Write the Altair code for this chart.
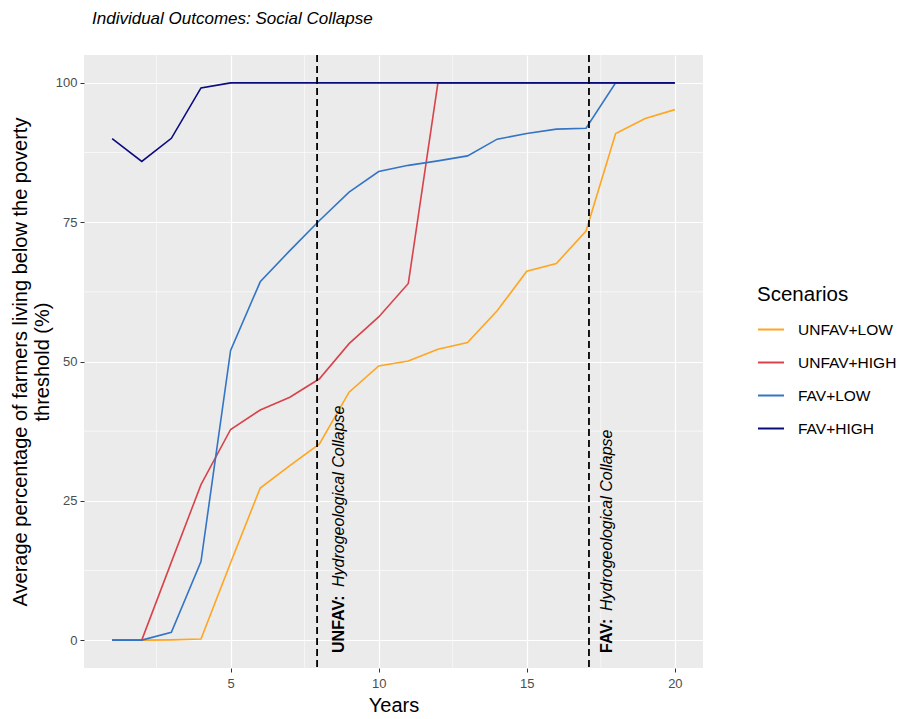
import altair as alt
import pandas as pd

years = list(range(1, 21))
unfav_low = [0, 0, 0.05, 0.2, 13.9, 27.3, 31.3, 35.2, 44.5, 49.2, 50.1, 52.2, 53.4, 59.1, 66.2, 67.6, 73.4, 90.9, 93.6, 95.2]
unfav_high = [0, 0, 14, 27.9, 37.8, 41.3, 43.6, 46.9, 53.2, 58.0, 64.0, 100, 100, 100, 100, 100, 100, 100, 100, 100]
fav_low = [0, 0, 1.4, 14.1, 52.0, 64.3, 69.9, 75.3, 80.4, 84.1, 85.2, 86.0, 86.9, 89.9, 90.9, 91.7, 91.85, 100, 100, 100]
fav_high = [90.0, 85.9, 90.05, 99.1, 100, 100, 100, 100, 100, 100, 100, 100, 100, 100, 100, 100, 100, 100, 100, 100]

scenarios = ["UNFAV+LOW", "UNFAV+HIGH", "FAV+LOW", "FAV+HIGH"]
colors = ["#FFA51F", "#D8434B", "#3474C4", "#0A0A80"]

collapse_years = [7.92, 17.1]
collapse_bold = ["UNFAV:", "FAV:"]
collapse_italic = ["Hydrogeological Collapse", "Hydrogeological Collapse"]
label_x = [8.66, 17.72]
label_y = [-2.3, -2.3]

x_ticks = [5, 10, 15, 20]
y_ticks = [0, 25, 50, 75, 100]
x_minor = [2.5, 7.5, 12.5, 17.5]
y_minor = [12.5, 37.5, 62.5, 87.5]

FONT = "Liberation Sans"

rows = []
for s, vals in zip(scenarios, [unfav_low, unfav_high, fav_low, fav_high]):
    for yr, v in zip(years, vals):
        rows.append({"Year": yr, "Value": v, "Scenario": s})
df = pd.DataFrame(rows)

xscale = alt.Scale(domain=[0.05, 20.95], nice=False, zero=False)
yscale = alt.Scale(domain=[-5, 105], nice=False, zero=False)

xaxis = alt.Axis(values=x_ticks, title="Years", grid=True, gridColor="white", gridWidth=1.2,
                 domain=False, tickColor="#333333", tickSize=4, labelFontSize=13,
                 labelColor="#4D4D4D", labelPadding=5, titleFontSize=20,
                 titleFontWeight="normal", titleColor="black", titlePadding=5,
                 labelFont=FONT, titleFont=FONT)
yaxis = alt.Axis(values=y_ticks, title=["Average percentage of farmers living below the poverty", "threshold (%)"],
                 grid=True, gridColor="white", gridWidth=1.2,
                 domain=False, tickColor="#333333", tickSize=4, labelFontSize=13,
                 labelColor="#4D4D4D", labelPadding=3, titleFontSize=20,
                 titleFontWeight="normal", titleColor="black", titlePadding=3,
                 titleLineHeight=22, labelFont=FONT, titleFont=FONT)

minor_x = alt.Chart(pd.DataFrame({"x": x_minor})).mark_rule(color="white", strokeWidth=0.6).encode(
    x=alt.X("x:Q", scale=xscale, axis=xaxis))
minor_y = alt.Chart(pd.DataFrame({"y": y_minor})).mark_rule(color="white", strokeWidth=0.6).encode(
    y=alt.Y("y:Q", scale=yscale, axis=yaxis))

lines = alt.Chart(df).mark_line(strokeWidth=1.6).encode(
    x=alt.X("Year:Q", scale=xscale, axis=xaxis),
    y=alt.Y("Value:Q", scale=yscale, axis=yaxis),
    color=alt.Color("Scenario:N", sort=scenarios,
                    scale=alt.Scale(domain=scenarios, range=colors),
                    legend=alt.Legend(title="Scenarios", orient="none", legendX=673, legendY=230,
                                      titleFontSize=20.5, titleFontWeight="normal", titleColor="black",
                                      titleFont=FONT, labelFont=FONT, labelFontSize=15.5, labelColor="black",
                                      symbolType="stroke", symbolSize=676, symbolStrokeWidth=2,
                                      rowPadding=10, titlePadding=10, labelOffset=13)),
)

ann = pd.DataFrame({"x": collapse_years, "lx": label_x, "ly": label_y,
                    "bold": collapse_bold, "ital": collapse_italic})

vlines = alt.Chart(ann).mark_rule(color="black", strokeWidth=1.8, strokeDash=[7, 4]).encode(
    x=alt.X("x:Q", scale=xscale, axis=xaxis))

bold_txt = alt.Chart(ann).mark_text(angle=270, align="left", baseline="middle", fontSize=16,
                                     fontWeight="bold", font=FONT, color="black").encode(
    x=alt.X("lx:Q", scale=xscale, axis=xaxis), y=alt.Y("ly:Q", scale=yscale, axis=yaxis), text="bold:N")

ital1 = alt.Chart(ann.iloc[[0]]).mark_text(angle=270, align="left", baseline="middle", fontSize=16,
                                            fontStyle="italic", font=FONT, color="black", dx=66).encode(
    x=alt.X("lx:Q", scale=xscale, axis=xaxis), y=alt.Y("ly:Q", scale=yscale, axis=yaxis), text="ital:N")
ital2 = alt.Chart(ann.iloc[[1]]).mark_text(angle=270, align="left", baseline="middle", fontSize=16,
                                            fontStyle="italic", font=FONT, color="black", dx=42).encode(
    x=alt.X("lx:Q", scale=xscale, axis=xaxis), y=alt.Y("ly:Q", scale=yscale, axis=yaxis), text="ital:N")

chart = alt.layer(minor_x, minor_y, lines, vlines, bold_txt, ital1, ital2).properties(
    width=619, height=613,
    title=alt.TitleParams("Individual Outcomes: Social Collapse", anchor="start", frame="group",
                          fontStyle="italic", fontWeight="normal", fontSize=17, font=FONT,
                          color="black", offset=26, dx=8),
    autosize=alt.AutoSizeParams(type="none"),
    padding={"left": 76, "top": 47, "right": 195, "bottom": 48},
    background="white",
).configure_view(fill="#EBEBEB", stroke=None)

chart.save("out.html", embed_options={"renderer": "svg", "actions": False})
